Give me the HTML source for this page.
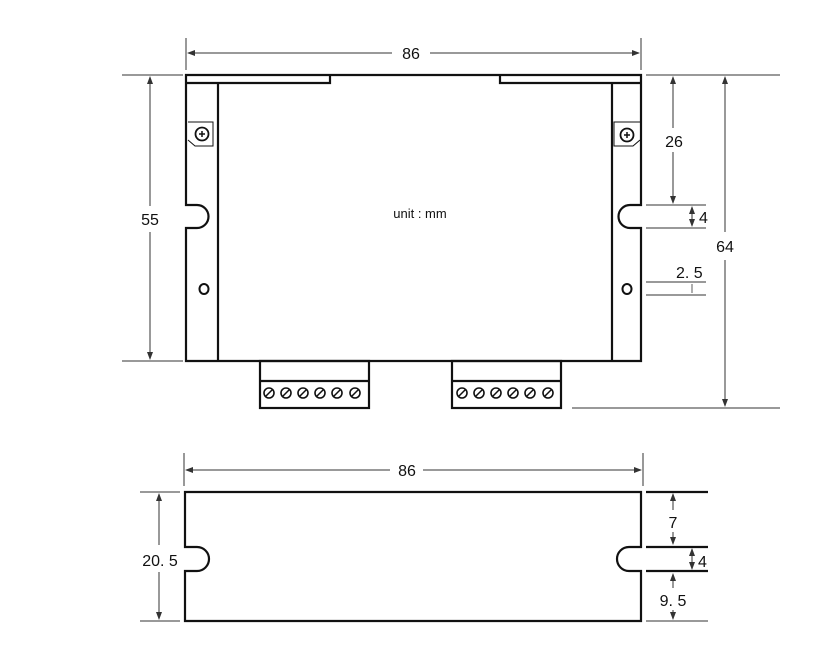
<!DOCTYPE html><html><head><style>body{margin:0;background:#fff}svg{display:block}text{font-family:"Liberation Sans",sans-serif;fill:#111}</style></head><body>
<svg width="840" height="660" viewBox="0 0 840 660" xmlns="http://www.w3.org/2000/svg">
<defs><marker id="a" markerWidth="8" markerHeight="6" refX="7" refY="3" orient="auto-start-reverse"><path d="M0,0L8,3L0,6z" fill="#333"/></marker></defs>
<g stroke="#333" stroke-width="1" fill="none">
<!-- top 86 -->
<line x1="186" y1="38" x2="186" y2="70"/><line x1="641" y1="38" x2="641" y2="70"/>
<line x1="188" y1="53" x2="392" y2="53" marker-start="url(#a)"/><line x1="430" y1="53" x2="639" y2="53" marker-end="url(#a)"/>
<!-- 55 -->
<line x1="122" y1="75" x2="183" y2="75"/><line x1="122" y1="361" x2="183" y2="361"/>
<line x1="150" y1="77" x2="150" y2="206" marker-start="url(#a)"/><line x1="150" y1="232" x2="150" y2="359" marker-end="url(#a)"/>
<!-- right dims -->
<line x1="646" y1="75" x2="780" y2="75"/><line x1="572" y1="408" x2="780" y2="408"/>
<line x1="725" y1="77" x2="725" y2="232" marker-start="url(#a)"/><line x1="725" y1="260" x2="725" y2="406" marker-end="url(#a)"/>
<line x1="673" y1="77" x2="673" y2="128" marker-start="url(#a)"/><line x1="673" y1="152" x2="673" y2="203" marker-end="url(#a)"/>
<line x1="646" y1="205" x2="706" y2="205"/><line x1="646" y1="228" x2="706" y2="228"/>
<line x1="692" y1="207" x2="692" y2="226" marker-start="url(#a)" marker-end="url(#a)"/>
<line x1="646" y1="282" x2="706" y2="282"/><line x1="646" y1="295" x2="706" y2="295"/>
<line x1="692" y1="284" x2="692" y2="293" stroke-width="0.8"/>
</g>
<g stroke="#111" stroke-width="2.2" fill="none">
<path d="M186,75H641V205H630A11.5,11.5 0 0 0 630,228H641V361H186V228H197A11.5,11.5 0 0 0 197,205H186Z"/>
<path d="M186,83H330V76M500,76V83H641"/>
<line x1="218" y1="84" x2="218" y2="361"/><line x1="612" y1="84" x2="612" y2="361"/>
<rect x="260" y="361" width="109" height="47"/><line x1="260" y1="381" x2="369" y2="381"/>
<rect x="452" y="361" width="109" height="47"/><line x1="452" y1="381" x2="561" y2="381"/>
<circle cx="202" cy="134" r="6.5" stroke-width="1.8"/><circle cx="627" cy="135" r="6.5" stroke-width="1.8"/>
<path d="M188,122H213V146H195L188,140" stroke-width="1"/><path d="M640,122H614V146H633L640,140" stroke-width="1"/>
<ellipse cx="204" cy="289" rx="4.5" ry="5" stroke-width="2"/><ellipse cx="627" cy="289" rx="4.5" ry="5" stroke-width="2"/>
</g>
<g stroke="#111" stroke-width="1.6" fill="none">
<g id="t"><circle cx="269" cy="393" r="5"/><circle cx="286" cy="393" r="5"/><circle cx="303" cy="393" r="5"/><circle cx="320" cy="393" r="5"/><circle cx="337" cy="393" r="5"/><circle cx="355" cy="393" r="5"/></g>
<use href="#t" x="193"/>
</g>
<g stroke="#111" stroke-width="1.5">
<path d="M266,396l6,-6M283,396l6,-6M300,396l6,-6M317,396l6,-6M334,396l6,-6M352,396l6,-6"/>
<path d="M459,396l6,-6M476,396l6,-6M493,396l6,-6M510,396l6,-6M527,396l6,-6M545,396l6,-6"/>
<path d="M199,134h6M202,131v6M624,135h6M627,132v6"/>
</g>
<text x="411" y="59" font-size="16" text-anchor="middle">86</text>
<text x="150" y="225" font-size="16" text-anchor="middle">55</text>
<text x="725" y="252" font-size="16" text-anchor="middle">64</text>
<text x="674" y="147" font-size="16" text-anchor="middle">26</text>
<text x="699" y="223" font-size="16">4</text>
<text x="676" y="278" font-size="16">2. 5</text>
<text x="420" y="218" font-size="13" text-anchor="middle">unit : mm</text>
<!-- bottom view -->
<g stroke="#333" stroke-width="1" fill="none">
<line x1="184" y1="453" x2="184" y2="486"/><line x1="643" y1="453" x2="643" y2="486"/>
<line x1="186" y1="470" x2="390" y2="470" marker-start="url(#a)"/><line x1="423" y1="470" x2="641" y2="470" marker-end="url(#a)"/>
<line x1="140" y1="492" x2="180" y2="492"/><line x1="140" y1="621" x2="180" y2="621"/>
<line x1="159" y1="494" x2="159" y2="545" marker-start="url(#a)"/><line x1="159" y1="572" x2="159" y2="619" marker-end="url(#a)"/>
<line x1="646" y1="621" x2="708" y2="621"/>
<line x1="673" y1="494" x2="673" y2="510" marker-start="url(#a)"/><line x1="673" y1="532" x2="673" y2="544" marker-end="url(#a)"/>
<line x1="692" y1="549" x2="692" y2="569" marker-start="url(#a)" marker-end="url(#a)"/>
<line x1="673" y1="574" x2="673" y2="588" marker-start="url(#a)"/><line x1="673" y1="610" x2="673" y2="619" marker-end="url(#a)"/>
</g>
<g stroke="#111" stroke-width="2.2" fill="none">
<path d="M185,492H641V547H629A12,12 0 0 0 629,571H641V621H185V571H197A12,12 0 0 0 197,547H185Z"/>
<line x1="646" y1="492" x2="708" y2="492"/><line x1="646" y1="547" x2="708" y2="547"/><line x1="646" y1="571" x2="708" y2="571"/>
</g>
<text x="407" y="476" font-size="16" text-anchor="middle">86</text>
<text x="160" y="566" font-size="16" text-anchor="middle">20. 5</text>
<text x="673" y="528" font-size="16" text-anchor="middle">7</text>
<text x="698" y="567" font-size="16">4</text>
<text x="673" y="606" font-size="16" text-anchor="middle">9. 5</text>
</svg></body></html>
